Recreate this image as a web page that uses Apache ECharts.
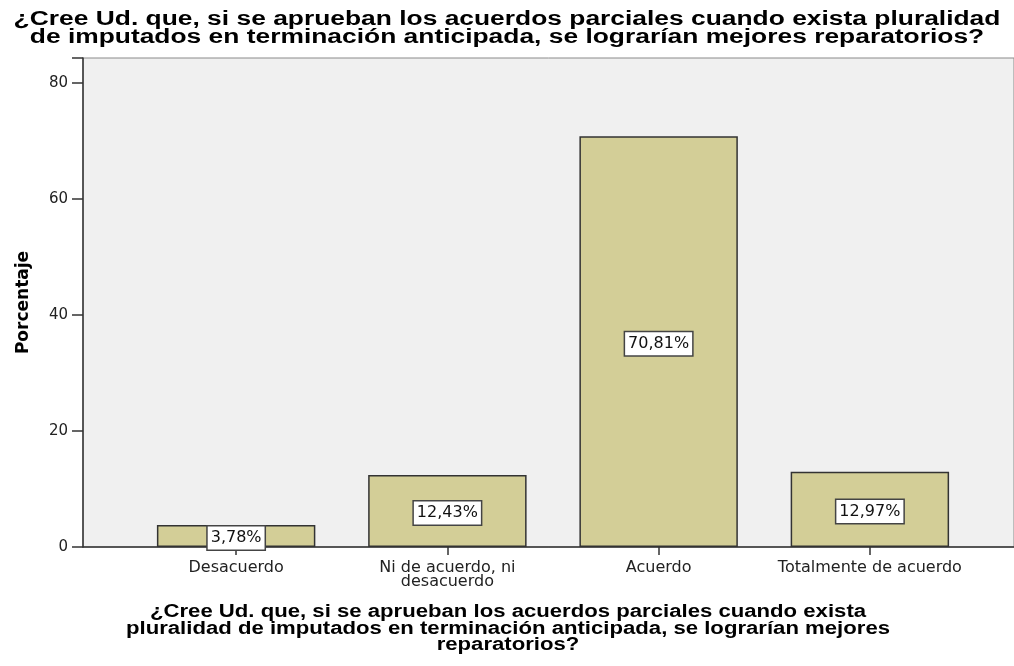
<!DOCTYPE html>
<html>
<head>
<meta charset="utf-8">
<script src="https://cdn.jsdelivr.net/npm/echarts@6/dist/echarts.min.js"></script>
<style>html,body{margin:0;padding:0;background:#fff}#c{width:1014px;height:666px}</style>
</head>
<body>
<div id="c"></div>
<script>
const titleText = '¿Cree Ud. que, si se aprueban los acuerdos parciales cuando exista pluralidad\nde imputados en terminación anticipada, se lograrían mejores reparatorios?';
const xAxisTitle = '¿Cree Ud. que, si se aprueban los acuerdos parciales cuando exista\npluralidad de imputados en terminación anticipada, se lograrían mejores\nreparatorios?';
const yAxisTitle = 'Porcentaje';
const categories = ['Desacuerdo', 'Ni de acuerdo, ni\ndesacuerdo', 'Acuerdo', 'Totalmente de acuerdo'];
const values = [3.78, 12.43, 70.81, 12.97];
const yTicks = [0, 20, 40, 60, 80];

const fontA = 'Liberation Sans, Arial, sans-serif';
const fontD = 'DejaVu Sans, sans-serif';
const yMax = 84.3;
const chart = echarts.init(document.getElementById('c'));
chart.setOption({
  animation: false,
  backgroundColor: '#ffffff',
  graphic: [
    {type: 'text', x: 507, y: 11, scaleX: 1.353, silent: true,
     style: {text: titleText, fontFamily: fontA, fontWeight: 'bold', fontSize: 19.5, lineHeight: 17.5,
             fill: '#000', align: 'center', verticalAlign: 'top'}},
    {type: 'text', x: 508, y: 604, scaleX: 1.23, silent: true,
     style: {text: xAxisTitle, fontFamily: fontA, fontWeight: 'bold', fontSize: 18, lineHeight: 16.5,
             fill: '#000', align: 'center', verticalAlign: 'top'}}
  ],
  grid: [
    {left: 83, right: -2, top: 58, bottom: 119, show: true, backgroundColor: '#f0f0f0', borderColor: '#8a8a8a', borderWidth: 1, containLabel: false},
    {left: 130.5, width: 845, top: 58, bottom: 119, containLabel: false}
  ],
  xAxis: [
    {type: 'value', gridIndex: 0, min: 0, max: 1, axisLine: {show: true, onZero: false, lineStyle: {color: '#333', width: 1.5}},
     axisTick: {show: false}, axisLabel: {show: false}, splitLine: {show: false}},
    {type: 'category', gridIndex: 1, data: categories,
     axisLine: {show: false}, axisTick: {show: true, alignWithLabel: true, length: 8, lineStyle: {color: '#333', width: 1.5}},
     axisLabel: {fontFamily: fontD, fontSize: 16, color: '#222', margin: 14, lineHeight: 14, interval: 0}}
  ],
  yAxis: [
    {type: 'value', gridIndex: 0, min: 0, max: yMax, interval: 20,
     name: yAxisTitle, nameLocation: 'middle', nameGap: 51,
     nameTextStyle: {fontFamily: fontD, fontWeight: 'bold', fontSize: 17, color: '#000'},
     axisLine: {show: true, lineStyle: {color: '#333', width: 1.5}},
     axisTick: {show: true, length: 11, lineStyle: {color: '#333', width: 1.5}},
     axisLabel: {fontFamily: fontD, fontSize: 15, color: '#222', margin: 15,
       customValues: yTicks, formatter: v => yTicks.includes(v) ? String(v) : ''},
     splitLine: {show: false}},
    {type: 'value', gridIndex: 1, min: 0, max: yMax, show: false, splitLine: {show: false}}
  ],
  series: [{
    type: 'bar', xAxisIndex: 1, yAxisIndex: 1, data: values, barCategoryGap: '25%',
    itemStyle: {color: '#d3ce97', borderColor: '#333', borderWidth: 1.5},
    label: {show: true, position: 'inside', offset: [0, 2], fontFamily: fontD, fontSize: 16, lineHeight: 18, color: '#111',
      backgroundColor: '#fff', borderColor: '#444', borderWidth: 1.5, padding: [3, 3, 2, 3],
      formatter: p => p.value.toFixed(2).replace('.', ',') + '%'}
  }]
});
</script>
</body>
</html>
